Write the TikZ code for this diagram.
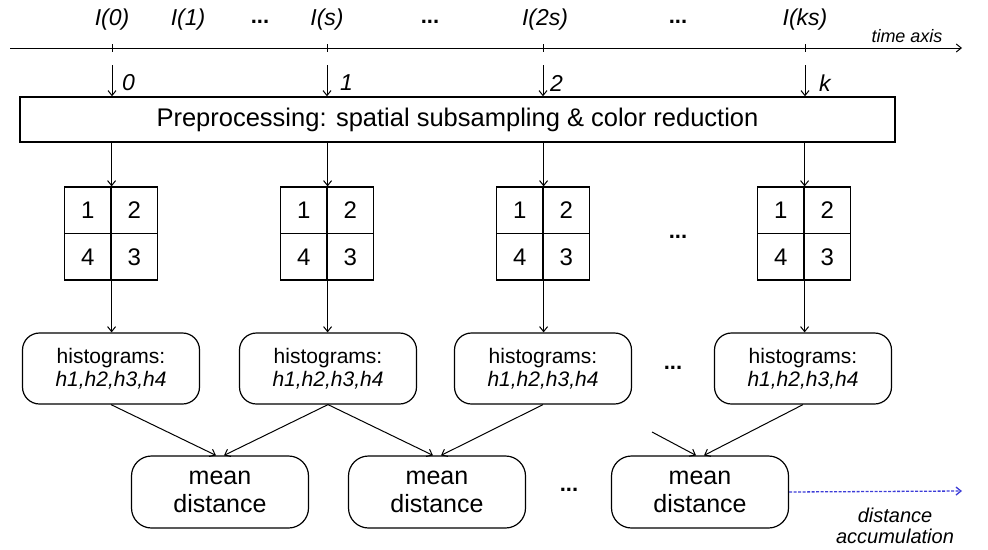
\documentclass[tikz,border=0pt]{standalone}
\usepackage{fontspec}
\setmainfont{Liberation Sans}
\usetikzlibrary{arrows.meta,positioning}
\definecolor{accblue}{RGB}{60,60,215}
\tikzset{>={Straight Barb[length=5pt,width=8pt]}}
\tikzset{
    prebox/.style={rectangle,draw,line width=1.3pt,minimum width=875,minimum height=45,inner sep=0pt,font=\fontsize{25.5}{30}\selectfont},
    cell/.style={rectangle,draw,line width=1.2pt,minimum size=46.5,inner sep=0pt,font=\fontsize{24}{26}\selectfont},
    hist/.style={rectangle,rounded corners=17,draw,line width=1.2pt,minimum width=177,minimum height=71,inner sep=0pt,align=center,font=\fontsize{21}{23}\selectfont},
    mean/.style={rectangle,rounded corners=20,draw,line width=1.2pt,minimum width=177,minimum height=72,inner sep=0pt,align=center,font=\fontsize{25}{28}\selectfont},
    lbl/.style={inner sep=0pt,font=\fontsize{23}{24}\selectfont\itshape},
    note/.style={inner sep=0pt,align=center,font=\fontsize{20}{21}\selectfont\itshape},
    dots/.style={inner sep=0pt,font=\fontsize{22}{24}\selectfont\bfseries},
    directed/.style={arrows={->},line width=1pt},
}

\begin{document}
\begin{tikzpicture}[x=1pt,y=-1pt]
	\useasboundingbox (0,0) rectangle (988,549);
	% time axis
	\coordinate (ax0) at (10,48);
	\coordinate (ax1) at (962,48);
	\draw[directed] (ax0) -- (ax1);
	\node[note,font=\fontsize{18}{20}\selectfont\itshape] (tax) at (907,36) {time axis};
	\node[lbl] (i0) at (112,20) {I(0)};
	\node[lbl] (i1) at (188,20) {I(1)};
	\node[dots] (d0) at (260,22) {...};
	\node[lbl] (is) at (327,20) {I(s)};
	\node[dots] (d1) at (430,22) {...};
	\node[lbl] (i2s) at (545,20) {I(2s)};
	\node[dots] (d2) at (678,22) {...};
	\node[lbl] (iks) at (805,20) {I(ks)};
	\foreach \x in {112,327,543,805}
		\draw[line width=1pt] (\x,44) -- (\x,52);

	% preprocessing
	\node[prebox] (pre) at (457.5,119.5) {Preprocessing: spatial subsampling \& color reduction};
	\coordinate (t0) at (112,65);
	\coordinate (t1) at (327,65);
	\coordinate (t2) at (543,65);
	\coordinate (t3) at (805,65);
	\draw[directed] (t0) -- (t0 |- pre.north);
	\draw[directed] (t1) -- (t1 |- pre.north);
	\draw[directed] (t2) -- (t2 |- pre.north);
	\draw[directed] (t3) -- (t3 |- pre.north);
	\node[lbl,anchor=west] (n0) at (122,83) {0};
	\node[lbl,anchor=west] (n1) at (340,83) {1};
	\node[lbl,anchor=west] (n2) at (550,83) {2};
	\node[lbl,anchor=west] (n3) at (819,83) {k};

	% grids
	\node[cell] (c0a) at (87.75,210.25) {1};
	\node[cell] (c0b) at (134.25,210.25) {2};
	\node[cell] (c0c) at (87.75,256.75) {4};
	\node[cell] (c0d) at (134.25,256.75) {3};
	\node[cell] (c1a) at (303.75,210.25) {1};
	\node[cell] (c1b) at (350.25,210.25) {2};
	\node[cell] (c1c) at (303.75,256.75) {4};
	\node[cell] (c1d) at (350.25,256.75) {3};
	\node[cell] (c2a) at (519.75,210.25) {1};
	\node[cell] (c2b) at (566.25,210.25) {2};
	\node[cell] (c2c) at (519.75,256.75) {4};
	\node[cell] (c2d) at (566.25,256.75) {3};
	\node[cell] (c3a) at (780.75,210.25) {1};
	\node[cell] (c3b) at (827.25,210.25) {2};
	\node[cell] (c3c) at (780.75,256.75) {4};
	\node[cell] (c3d) at (827.25,256.75) {3};
	\node[dots] (d3) at (678,237) {...};
	\draw[directed] (pre.south -| c0a.north east) -- (c0a.north east);
	\draw[directed] (pre.south -| c1a.north east) -- (c1a.north east);
	\draw[directed] (pre.south -| c2a.north east) -- (c2a.north east);
	\draw[directed] (pre.south -| c3a.north east) -- (c3a.north east);

	% histograms
	\node[hist] (h0) at (111,368.5) {histograms:\\\textit{h1,h2,h3,h4}};
	\node[hist] (h1) at (328,368.5) {histograms:\\\textit{h1,h2,h3,h4}};
	\node[hist] (h2) at (543,368.5) {histograms:\\\textit{h1,h2,h3,h4}};
	\node[hist] (h3) at (803,368.5) {histograms:\\\textit{h1,h2,h3,h4}};
	\node[dots] (d4) at (673,368) {...};
	\draw[directed] (c0c.south east) -- (c0c.south east |- h0.north);
	\draw[directed] (c1c.south east) -- (c1c.south east |- h1.north);
	\draw[directed] (c2c.south east) -- (c2c.south east |- h2.north);
	\draw[directed] (c3c.south east) -- (c3c.south east |- h3.north);

	% distances
	\node[mean] (m0) at (220,492) {mean\\distance};
	\node[mean] (m1) at (437,492) {mean\\distance};
	\node[mean] (m2) at (700,492) {mean\\distance};
	\node[dots] (d5) at (569,490) {...};
	\coordinate (in2) at (652,432);
	\draw[directed] (h0.south) -- ([xshift=-4pt]m0.north);
	\draw[directed] (h1.south) -- ([xshift=4pt]m0.north);
	\draw[directed] (h1.south) -- ([xshift=-4pt]m1.north);
	\draw[directed] (h2.south) -- ([xshift=4pt]m1.north);
	\draw[directed] (in2) -- ([xshift=-4pt]m2.north);
	\draw[directed] (h3.south) -- ([xshift=4pt]m2.north);

	% accumulation
	\coordinate (acc) at (962,491);
	\draw[directed,accblue,line width=1.3pt,dash pattern=on 3pt off 1.5pt] (m2.east) -- (acc);
	\node[note] (acclbl) at (895,526) {distance\\accumulation};
\end{tikzpicture}
\end{document}
